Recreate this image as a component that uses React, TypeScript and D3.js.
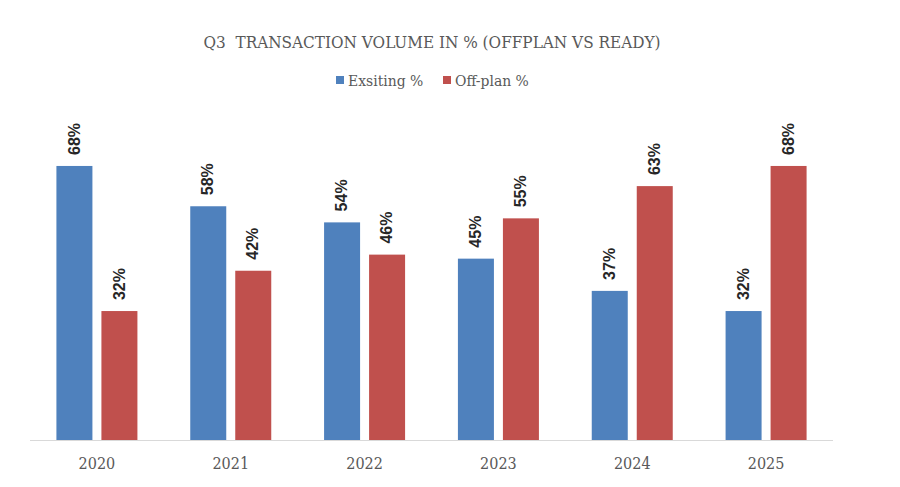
import * as d3 from 'd3';

const width = 900;
const height = 487;

const years = ['2020', '2021', '2022', '2023', '2024', '2025'];
const seriesNames = ['Exsiting %', 'Off-plan %'];
const existing = [68, 58, 54, 45, 37, 32];
const offplan = [32, 42, 46, 55, 63, 68];

const colors = ['#4F81BD', '#C0504D'];

const [ml, mr, baseY, topY] = [30, 67, 440, 117.6];
const serif = "'DejaVu Serif Condensed', 'DejaVu Serif', serif";

export default function App() {
    const x0 = d3.scaleBand<string>().domain(years).range([ml, width - mr]).padding(0);
    const x1 = d3
        .scaleBand<string>()
        .domain(seriesNames)
        .range([0, x0.bandwidth()])
        .paddingInner(0.2)
        .paddingOuter(0.587);
    const y = d3.scaleLinear().domain([0, 80]).range([baseY, topY]);

    const series = [existing, offplan];

    return (
        <svg
            width={width}
            height={height}
            style={{ position: 'fixed', left: 0, top: 0, background: '#fff' }}
        >
            <text
                x={432}
                y={48}
                textAnchor="middle"
                fontFamily={serif}
                fontStretch="condensed"
                fontSize={17}
                fill="#595959"
                style={{ whiteSpace: 'pre' }}
            >
                {'Q3  TRANSACTION VOLUME IN % (OFFPLAN VS READY)'}
            </text>

            {/* legend */}
            <g fontFamily={serif} fontStretch="condensed" fontSize={15.5} fill="#595959">
                <rect x={336} y={76} width={8} height={8} fill={colors[0]} />
                <text x={348} y={86}>{seriesNames[0]}</text>
                <rect x={443} y={76} width={8} height={8} fill={colors[1]} />
                <text x={455} y={86}>{seriesNames[1]}</text>
            </g>

            <line x1={ml} x2={width - mr} y1={baseY + 0.5} y2={baseY + 0.5} stroke="#D9D9D9" strokeWidth={1} />

            {years.map((yr, i) => (
                <g key={yr} transform={`translate(${x0(yr)},0)`}>
                    {series.map((vals, s) => {
                        const bx = x1(seriesNames[s]) as number;
                        const v = vals[i];
                        const cx = bx + x1.bandwidth() / 2;
                        return (
                            <g key={s}>
                                <rect
                                    x={bx}
                                    y={y(v)}
                                    width={x1.bandwidth()}
                                    height={baseY - y(v)}
                                    fill={colors[s]}
                                />
                                <text
                                    transform={`translate(${cx + 1},${y(v) - 11}) rotate(-90)`}
                                    dominantBaseline="middle"
                                    fontFamily="'Liberation Sans', Arial, sans-serif"
                                    fontWeight="bold"
                                    fontSize={16}
                                    fill="#262626"
                                >
                                    {v}%
                                </text>
                            </g>
                        );
                    })}
                    <text
                        x={x0.bandwidth() / 2}
                        y={469}
                        textAnchor="middle"
                        fontFamily={serif}
                        fontStretch="condensed"
                        fontSize={16}
                        fill="#595959"
                    >
                        {yr}
                    </text>
                </g>
            ))}
        </svg>
    );
}
